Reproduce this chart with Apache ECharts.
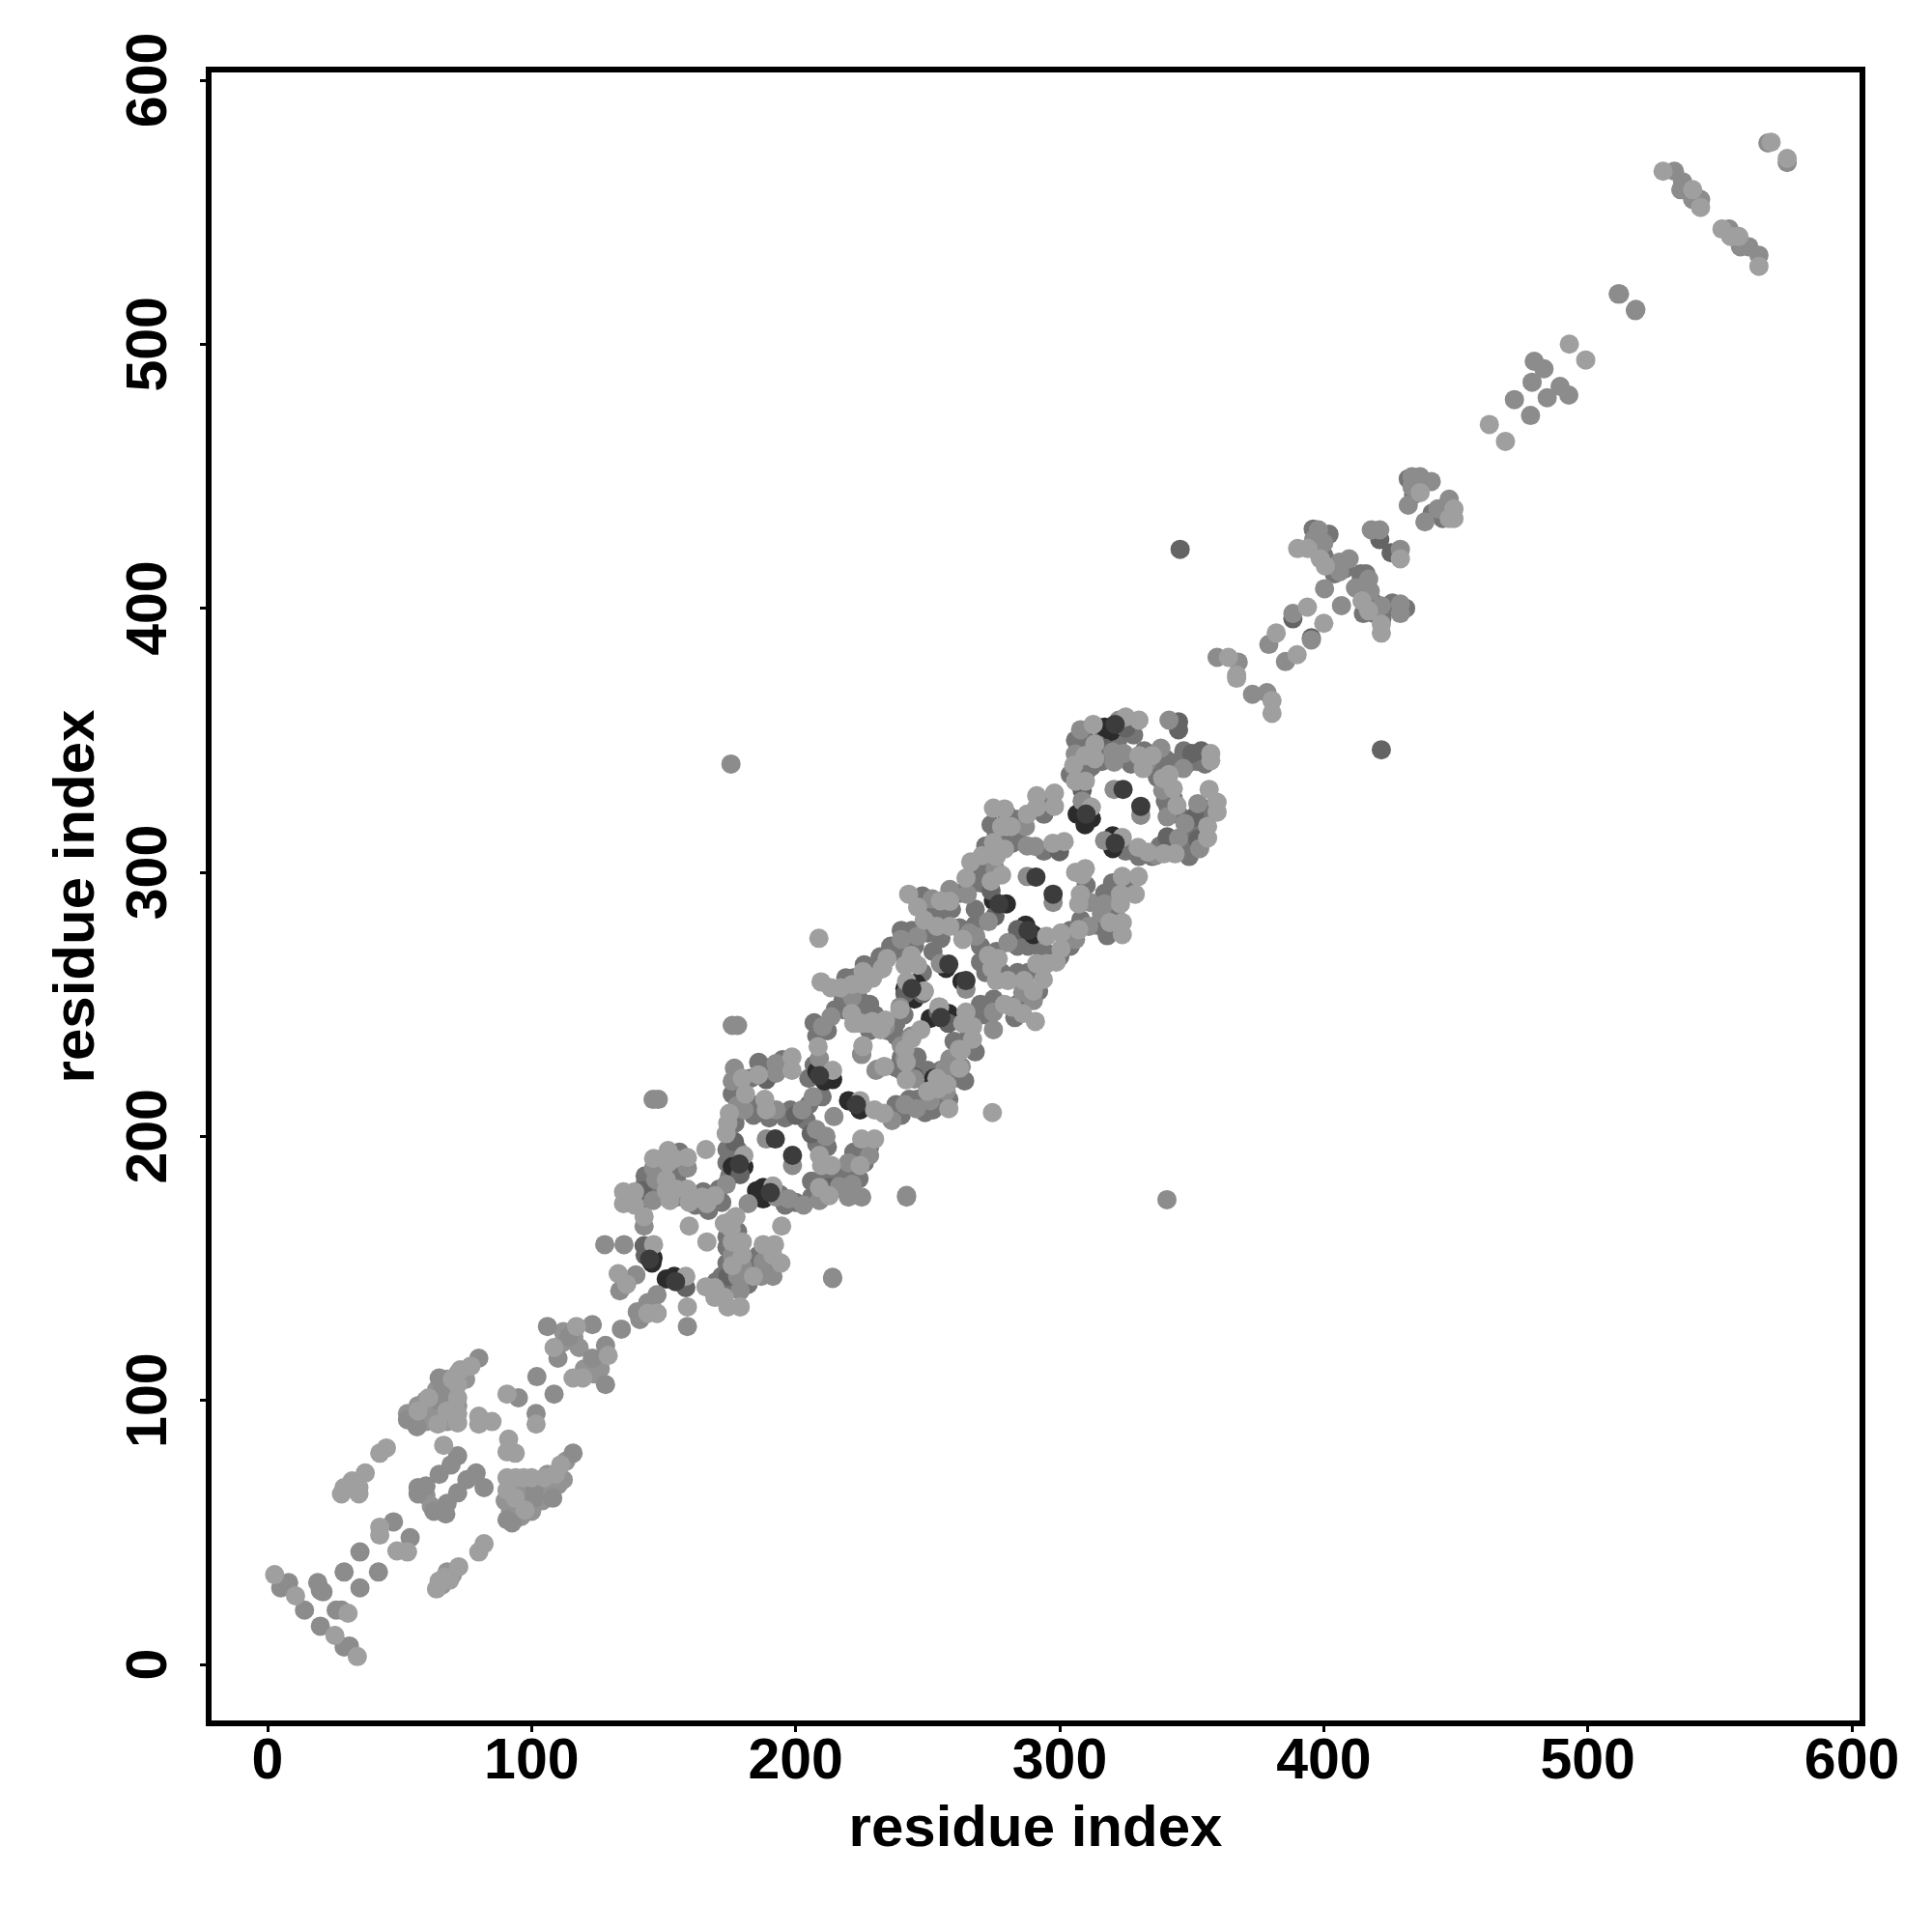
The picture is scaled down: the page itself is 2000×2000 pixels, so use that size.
<!DOCTYPE html>
<html><head><meta charset="utf-8">
<script src="https://cdn.jsdelivr.net/npm/echarts@6/dist/echarts.min.js"></script>
<style>html,body{margin:0;padding:0;background:#fff}#c{width:2000px;height:2000px}</style>
</head><body><div id="c"></div>
<script>
const tickValues = [0,100,200,300,400,500,600];
const axisTitle = 'residue index';

const fillLowPts = [[53,95],[56,93],[60,92],[60,96],[64,95],[68,92],[68,100],[68,104],[64,104],[72,98],[68,108],[62,98],[72,110],[75,108],[60,100],[57,98],[92,58],[94,60],[96,66],[100,70],[104,66],[104,62],[98,62],[100,58],[96,56],[108,68],[112,70],[106,72],[113,77],[94,56],[90,62],[104,70],[98,66],[110,68],[66,30],[68,35],[70,34],[62,60],[60,64],[112,122],[116,124],[118,120],[112,126],[120,112],[124,110],[126,112]];

const fillMidPts = [[143,185],[143,182],[146,181],[149,186],[155,186],[149,191],[156,194],[155,183],[148,178],[144,176],[155,177],[162,174],[165,179],[168,175],[167,172],[172,175],[171,180],[174,152],[178,152],[174,158],[178,157],[172,147],[176,143],[170,145],[182,144],[184,150],[186,155],[190,150],[174,162],[178,164],[174,190],[174,195],[176,191],[178,195],[175,185],[190,180],[194,178],[200,175],[196,174],[206,177],[206,183],[210,184],[214,183],[218,180],[217,187],[221,186],[224,184],[226,190],[222,194],[228,196],[208,197],[208,200],[212,196],[177,205],[179,213],[184,208],[186,212],[190,207],[196,207],[198,210],[204,206],[205,212],[210,215],[176,216],[180,219],[183,222],[186,228],[189,226],[195,229],[205,222],[207,227],[208,238],[207,243],[212,240],[215,248],[218,248],[222,246],[226,246],[230,246],[228,240],[235,240],[238,243],[241,246],[218,252],[224,252],[228,250],[222,260],[219,260],[236,208],[240,208],[238,212],[243,214],[246,214],[249,209],[252,210],[255,213],[258,214],[238,226],[240,225],[238,238],[240,230],[243,226],[246,230],[250,225],[250,218],[254,212],[248,262],[252,270],[255,275],[250,277],[244,278],[240,278],[238,270],[236,272],[232,268],[230,262],[226,265],[245,272],[250,286],[248,291],[254,284],[259,286],[262,292],[262,279],[268,280],[268,286],[270,296],[270,302],[272,310],[272,304],[276,314],[274,318],[280,322],[284,320],[284,312],[282,311],[294,308],[296,327],[294,322],[284,272],[288,272],[292,272],[296,269],[300,268],[304,272],[304,278],[308,282],[314,280],[318,276],[317,292],[321,285],[320,296],[326,295],[310,295],[270,266],[272,262],[278,262],[270,272],[276,270],[284,262],[288,262],[292,255],[284,250],[283,245],[275,252],[272,246],[270,250],[268,245],[264,236],[260,236],[268,232],[260,222],[258,222],[255,225],[264,221],[306,350],[310,350],[308,340],[312,340],[316,350],[320,352],[328,352],[322,350],[316,342],[310,338],[304,337],[327,341],[332,346],[336,340],[340,343],[347,346],[345,342],[350,342],[348,341],[352,342],[355,341],[337,336],[339,339],[341,325],[343,328],[345,322],[340,327],[354,322],[356,324],[350,316],[352,318],[346,310],[342,310],[338,310],[335,306],[330,306],[325,308],[350,310],[354,312],[349,306],[397,422],[399,427],[402,428],[396,430],[400,420],[403,417],[404,413],[408,415],[414,410],[416,404],[419,402],[415,398],[424,400],[426,402],[431,400],[414,413],[416,413],[422,396],[419,398],[432,449],[434,443],[446,436],[445,434],[441,436]];

const blackPts = [[146,154],[145.6,152],[151,146],[154,147],[176,188.5],[180.4,188.5],[187.7,180.6],[185.2,179.4],[187.7,176.3],[245.7,257.5],[245.7,254],[257,246.5],[252.3,222],[258,246.5],[241.4,256],[245.6,258],[251,244.7],[274.9,289.2],[279.8,288],[287.1,280],[290,276.4],[306.6,322],[312,320.4],[309.6,318],[320.1,313.8],[320.1,309],[317,355],[319.4,353.3],[245,252],[220,213.5],[224.4,210],[214,221.5],[210.9,221],[208,224.5],[257,263.6],[263,258.7]];

const darkPts = [[143,155],[142.6,158.6],[158.4,142.7],[142,179.4],[179,185.5],[176.8,198],[200,208],[188.9,221.5],[245,222.7],[275.5,283.4],[274,293],[299.9,307.8],[308.5,331],[325,354.6],[345,357],[345,354],[350,345],[351,321],[352.3,312.5],[284,278.3],[257.8,242.8],[254,247],[312.7,345],[317,347],[353.6,346],[340.7,313.4],[388.3,396],[395.3,388.8],[421.2,426],[425.5,421],[248,254],[241.4,254],[205.9,201],[174.3,147],[212.7,180.6],[345.6,422.3],[421.8,346.4]];

const midPts = [[5,29],[8,31],[14,20.6],[19,31],[20,28],[21,27.5],[20,14.5],[29,6.6],[31,7],[26,20.6],[28,20.6],[29,35],[35,42.6],[35,29],[42,35],[47.7,54],[54,48],[57,64.6],[57,67],[60,67.6],[65,72],[63,58],[67.5,57],[68,61],[72,65],[75.5,70],[79,72.5],[82,67],[72,79],[69.5,75.6],[53,92.7],[56.6,90],[65,108.5],[66,103.6],[64.5,100],[80,116],[90.7,54.8],[92.6,53.6],[101,63],[101,67],[108,63],[115.7,80],[95,101],[102,109],[101.7,95],[106,128],[110,116],[108.5,102.4],[114,124],[123,128.7],[128,106],[123,116],[128,120.8],[134,127],[140,133.5],[147.5,133],[176,242],[178,242],[146,214],[148,214],[242,177],[242,177.6],[214,146.6],[214,146.2],[127.7,159],[135,159],[159,128],[133.4,141.5],[139.5,147.5],[141,130.6],[144,137],[147.5,140],[179,141.5],[178,147],[181.6,147.6],[187,147],[191.4,147],[176,155],[179.8,151],[187.7,152.5],[159,188],[146.2,188],[147,183.6],[146,175.7],[142.6,166],[173.7,181.8],[182,174.5],[192.6,177],[197.4,176.3],[203,174],[188.9,199],[198.8,189],[207.8,202.6],[211.5,200],[214.5,207.5],[209,175.7],[216.5,181],[220,190],[228,192.8],[221.4,181.8],[220,177],[225,177],[236.5,206],[241.4,212],[245.7,210.5],[251,213.5],[257,217],[225,231.2],[231,225.5],[240,234.3],[241.4,229.5],[243.8,238],[176.8,225.8],[176,220.9],[192.6,227.6],[192.6,223.9],[180.5,210],[178,211.7],[192.6,210],[202.4,210],[206.6,215],[209,229.5],[210.2,241.6],[213.4,245.3],[221.4,252.6],[217.7,256],[226.8,261],[232.9,263.6],[254.8,265.4],[287.7,298.4],[264.5,255.7],[297.5,288.6],[320.6,331.4],[330.7,321.6],[251.7,289.9],[258.4,293.5],[265,291.7],[246.2,275.8],[240,274.6],[265.8,277],[268.2,275.8],[273,281.3],[275.5,301.4],[287,317.3],[287.7,310],[290.7,309.8],[311.5,288.6],[317,288],[315.8,284.4],[311,279.5],[306,274.6],[280.4,273.4],[286,254.5],[290,251.4],[274.9,247],[274.9,240.4],[262.7,226.4],[258.4,229.4],[256.6,225.8],[245,221.7],[239.5,249],[234,241.6],[224.3,243],[225,231],[230.4,225],[307.9,354],[322.4,357.6],[341.4,357.6],[305.9,344.8],[320,345.5],[324.3,345],[320.6,341.7],[333,341.7],[338.3,347],[346.8,339.3],[308.5,327],[339,331],[340.7,321],[352.3,326],[353,309],[347.4,318.5],[317,312],[345,312.9],[336.5,306.4],[359.6,381.4],[367.6,379.6],[373,367.4],[378.5,368],[379.2,386.3],[385.5,379.8],[388.3,398],[395.3,388],[400.3,407.4],[406.7,401],[398,429.7],[400,424.7],[396.2,426],[406,417.4],[406,413.8],[409.6,418.7],[417,411],[417.6,406.5],[412,407.7],[429,401.6],[429,398],[421.8,400.9],[418,429.7],[421.2,429.7],[429,422.3],[433.4,449.8],[436.5,449.8],[433.4,446],[440.7,448],[432,439],[438.3,432.7],[443.2,437.6],[447.5,441.3],[472.2,479],[478.3,473],[479.7,493.5],[483.4,490.7],[478.9,485.6],[484.6,479.7],[489.5,484],[492.8,480.7],[511.5,519],[512,519],[518,512.7],[518.2,513.2],[532.8,565.5],[535.9,561.5],[535.2,558.5],[539.7,554.8],[542.7,554.8],[553.5,543.6],[557.8,536.9],[561,536.9],[564.8,533.7],[568.2,576.2],[575.5,568.8],[340.6,176],[175.5,341]];

const lightPts = [[2.7,34],[10.6,26],[25.5,11],[34,3],[30.5,19.4],[42.5,52],[42.5,49],[49,43],[53,42.6],[64,28.6],[65,31.6],[69,32],[67,33],[72.4,37],[80,42.6],[82,45.7],[28,64.6],[29,67],[32,69.5],[34.6,67],[37,72.5],[34.6,64.6],[42.5,80],[45,82],[66.7,83],[80,94],[80,91],[85,92],[57,96],[61,101],[64.5,91],[72,91.5],[72,95],[70,108],[72,101],[72,106],[73,111.6],[77,113],[68,96],[90.7,70.7],[94,70.7],[97,70.7],[100,70.7],[90.7,66],[93.8,63],[97.5,58.5],[104.8,70.7],[109,72],[111,75.6],[91.3,85.3],[90.7,80.5],[93.8,80],[90.7,102.4],[101.7,91],[108.5,120],[115.7,108.5],[119.4,108.5],[117,128],[129,117],[159,135.4],[194.7,166],[166,195],[209.6,258.5],[136,144],[132.8,148],[146.2,159],[158.4,147],[147.5,133],[144,133],[166,143],[169.4,142.7],[169.4,139],[174.3,135.4],[179,135.4],[173,139],[176,160],[179.8,160],[179.8,155],[176,151],[187.7,159],[192,159],[194.4,152],[191.4,155],[184,147],[159.7,166],[166.4,160],[173,167],[176,168.4],[177.4,169.6],[175.6,165],[134.8,179],[134.8,174.5],[139,179],[139,174],[142.6,169.6],[146.2,191.6],[151.7,194.6],[151.7,190],[159,192],[154,191.6],[151,183.6],[151,179.4],[154.8,180],[159,180],[159.7,175],[164.6,177],[166.4,174.5],[169.4,177.5],[152.4,175.7],[173.7,201],[174.3,205],[180.4,192.8],[191.4,181.2],[209,192.8],[209.8,189],[213.5,189],[209,180.6],[212.7,177.5],[225,199],[229.9,199],[224.4,189],[224.4,213.5],[229.9,210],[233.4,208.7],[258,210.5],[225.5,234],[233.7,226.4],[247.4,240.4],[254.2,249],[262,233],[262,225.8],[179.8,222],[185.9,223.3],[198.6,230],[198.6,225],[181,216],[174.9,208.7],[188.3,214],[188.9,210],[208.5,234],[214,225],[222,242.8],[225,242.8],[228,242.8],[232.4,241],[234,244],[239.5,248],[221.4,257.5],[225.5,257.5],[242,258.7],[248.7,255],[242.8,291.7],[246.2,286.8],[254.8,289.2],[258.4,289],[264.5,297.8],[266.3,303.9],[270.6,306.3],[248.7,281.9],[253.5,279.5],[258.4,279.5],[243.8,268.5],[246.2,264.8],[241.4,264.8],[234.6,267.3],[232.8,263.6],[225.5,262.4],[229.1,259.9],[217,256.3],[213.3,256.3],[263.3,274.6],[274,296.6],[278,299],[274.9,311.2],[279.1,308.8],[276,306],[279.1,324],[274.9,324.3],[278,317.3],[281.6,317.3],[287.7,322],[297.4,311],[301.7,311.6],[291.3,329],[298,330],[298,325],[291.3,324.7],[306,300],[309.7,301.4],[308.5,299],[307.8,291.7],[307.2,288],[323,288],[323.7,298.4],[329.8,298.4],[328.6,291.7],[323,291.7],[323.7,281],[323.7,276.4],[319,281],[307.2,278.3],[300.5,277],[300.5,271],[295,275.8],[295,265.4],[291.3,265.4],[298.7,266],[273,268.5],[276.7,267.3],[274.3,263.6],[276,259],[280.4,259],[286.5,259],[293.8,259.4],[290,255],[279.1,250],[282,249],[286,246.5],[290.8,243.5],[264.5,247],[267,241.6],[263.3,242.8],[267,236.8],[262.7,232.5],[253.5,222],[254,218],[250,217],[257.3,219.7],[254.5,249],[248.7,255],[244,237],[241.4,233],[241.9,228],[241.9,221.4],[232.2,240.4],[229,243.5],[221.2,246.5],[225.5,234.3],[233.4,226.4],[312.7,356],[325,358.8],[330,357.6],[313.3,348.5],[309.6,344.2],[305.3,340.5],[313.3,343],[330,344.2],[335,344.2],[331.6,339.3],[357.2,345],[357.2,342.3],[306,334.5],[309.7,334.5],[312,324.7],[339,335.6],[343,331.7],[341.4,337],[344.4,325.3],[356.6,331.4],[359.6,326.5],[359.6,322.8],[356,317.4],[356,313],[323.7,313.2],[329.7,309.4],[333.4,307.6],[339.5,307],[343.7,307],[363.9,381.4],[367,374.7],[367,373.5],[380.4,365],[380.4,360.2],[382,390.6],[389.9,382.4],[393.8,400.4],[400,394.3],[390.1,422.6],[394,422.6],[398.7,418.7],[400.6,416],[414.5,402.8],[417,399],[421.8,394],[421.8,390.6],[429,418.7],[436.5,443.8],[449.3,437.6],[447.5,434],[449.3,434],[468.8,463.2],[462.7,469.6],[493,500],[499.2,494],[528.5,565.5],[539.7,558.5],[542.7,551.8],[550.8,543.6],[554.1,540.8],[557.2,540.8],[564.8,529.5],[569.4,576.5],[575.5,570.3],[208.8,275],[274.5,209]];

const topPts = [[258,265.2],[264.5,259],[291,298.2],[297.5,291.7],[324,331.4],[330.7,325],[192.3,199],[198.8,192.8],[310,322],[321,311],[321,356],[277,288],[288,278],[255,245],[244,256],[178.7,189.5],[190.4,178.7],[144.7,153.5],[154.5,145],[209,223],[223,212]];

const shades = ['#939393','#757575','#2b2b2b','#646464','#8c8c8c','#9f9f9f','#3c3c3c'];
const groups = [fillLowPts,fillMidPts,blackPts,darkPts,midPts,lightPts,topPts];

const font = '"Liberation Sans", Arial, sans-serif';
const axisCommon = {
  type:'value', min:-22.3, max:604, splitLine:{show:false},
  name:axisTitle, nameLocation:'middle',
  nameTextStyle:{fontFamily:font,fontWeight:'bold',fontSize:60,color:'#000'},
  axisLine:{show:false,onZero:false},
  axisTick:{show:true,length:9,inside:false,customValues:tickValues,lineStyle:{color:'#000',width:3}},
  axisLabel:{fontFamily:font,fontWeight:'bold',fontSize:59,color:'#000',customValues:tickValues,showMinLabel:true,showMaxLabel:true,hideOverlap:false}
};
const chart = echarts.init(document.getElementById('c'),null,{renderer:'canvas'});
chart.setOption({
  animation:false, backgroundColor:'#fff',
  grid:{left:216,right:72,top:72,bottom:216,show:true,borderColor:'#000',borderWidth:6,backgroundColor:'#fff'},
  xAxis:Object.assign({},axisCommon,{nameGap:80,axisLabel:Object.assign({},axisCommon.axisLabel,{margin:11})}),
  yAxis:Object.assign({},axisCommon,{nameGap:106,axisLabel:Object.assign({},axisCommon.axisLabel,{rotate:90,margin:31})}),
  series:groups.map((pts,i)=>({type:'scatter',data:pts,symbol:'circle',symbolSize:20,z:2+i,silent:true,
    itemStyle:{color:shades[i],opacity:1},large:false,clip:false}))
});
</script></body></html>
